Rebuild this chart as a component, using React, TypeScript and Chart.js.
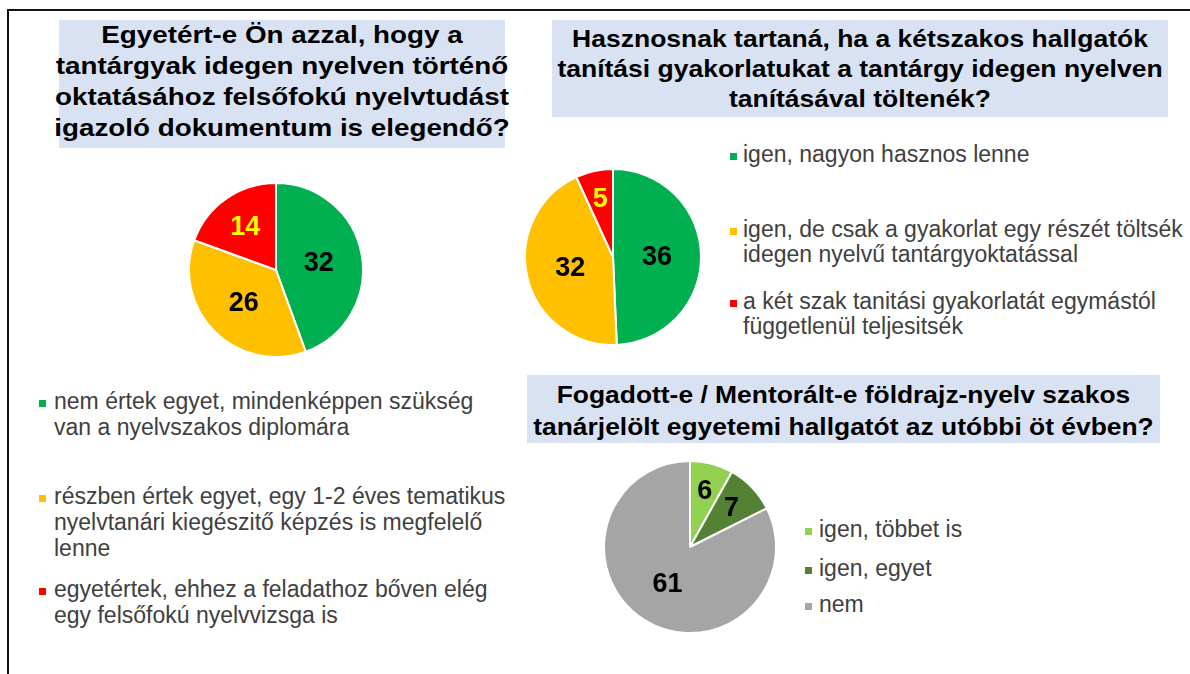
import React, { useEffect, useRef } from "react";
import { Chart, registerables } from "chart.js";
Chart.register(...registerables);

// ---------- data ----------
const title1 =
  "Egyetért-e Ön azzal, hogy a\ntantárgyak idegen nyelven történő\noktatásához felsőfokú nyelvtudást\nigazoló dokumentum is elegendő?";
const categories1 = [
  "nem értek egyet, mindenképpen szükség\nvan a nyelvszakos diplomára",
  "részben értek egyet, egy 1-2 éves tematikus\nnyelvtanári kiegészitő képzés is megfelelő\nlenne",
  "egyetértek, ehhez a feladathoz bőven elég\negy felsőfokú nyelvvizsga is",
];
const values1 = [32, 26, 14];
const colors1 = ["#00B050", "#FFC000", "#FF0000"];
const labelColors1 = ["#000000", "#000000", "#FFFF00"];

const title2 =
  "Hasznosnak tartaná, ha a kétszakos hallgatók\ntanítási gyakorlatukat a tantárgy idegen nyelven\ntanításával töltenék?";
const categories2 = [
  "igen, nagyon hasznos lenne",
  "igen, de csak a gyakorlat egy részét töltsék\nidegen nyelvű tantárgyoktatással",
  "a két szak tanitási gyakorlatát egymástól\nfüggetlenül teljesitsék",
];
const values2 = [36, 32, 5];
const colors2 = ["#00B050", "#FFC000", "#FF0000"];
const labelColors2 = ["#000000", "#000000", "#FFFF00"];

const title3 =
  "Fogadott-e / Mentorált-e földrajz-nyelv szakos\ntanárjelölt egyetemi hallgatót az utóbbi öt évben?";
const categories3 = ["igen, többet is", "igen, egyet", "nem"];
const values3 = [6, 7, 61];
const colors3 = ["#92D050", "#548235", "#A5A5A5"];
const labelColors3 = ["#000000", "#000000", "#000000"];

const FONT = "'Liberation Sans', Arial, Helvetica, sans-serif";

// ---------- value label plugin ----------
function makeLabelPlugin(labelColors: string[]) {
  return {
    id: "valueLabels",
    afterDatasetsDraw(chart: any) {
      const ctx = chart.ctx;
      const ds = chart.data.datasets[0];
      const meta = chart.getDatasetMeta(0);
      ctx.save();
      ctx.font = `bold 27px ${FONT}`;
      ctx.textAlign = "center";
      ctx.textBaseline = "middle";
      meta.data.forEach((arc: any, i: number) => {
        const p = arc.getProps(["startAngle", "endAngle", "outerRadius", "x", "y"], true);
        const span = ((p.endAngle - p.startAngle) * 180) / Math.PI;
        const f = Math.max(0.5, 0.72 - 0.0015 * span);
        const mid = (p.startAngle + p.endAngle) / 2;
        const r = p.outerRadius * f;
        ctx.fillStyle = labelColors[i];
        ctx.fillText(String(ds.data[i]), p.x + Math.cos(mid) * r, p.y + Math.sin(mid) * r + 1);
      });
      ctx.restore();
    },
  };
}

function Pie(props: {
  labels: string[];
  values: number[];
  colors: string[];
  labelColors: string[];
  left: number;
  top: number;
  size: number;
}) {
  const ref = useRef<HTMLCanvasElement | null>(null);
  useEffect(() => {
    if (!ref.current) return;
    const chart = new Chart(ref.current, {
      type: "pie",
      data: {
        labels: props.labels,
        datasets: [
          {
            data: props.values,
            backgroundColor: props.colors,
            borderColor: "#FFFFFF",
            borderWidth: 2,
          },
        ],
      },
      options: {
        responsive: false,
        animation: false,
        layout: { padding: 0 },
        plugins: { legend: { display: false }, tooltip: { enabled: false } },
      },
      plugins: [makeLabelPlugin(props.labelColors)],
    } as any);
    return () => chart.destroy();
  }, []);
  return (
    <canvas
      ref={ref}
      width={props.size}
      height={props.size}
      style={{ position: "absolute", left: props.left, top: props.top, width: props.size, height: props.size }}
    />
  );
}

function TitleBox(props: {
  text: string;
  left: number;
  top: number;
  width: number;
  height: number;
  lineHeight: number;
  textTop: number;
  scaleX: number;
}) {
  return (
    <div
      style={{
        position: "absolute",
        left: props.left,
        top: props.top,
        width: props.width,
        height: props.height,
        background: "#D9E2F3",
      }}
    >
      <div
        style={{
          position: "absolute",
          left: 0,
          top: props.textTop,
          width: "100%",
          textAlign: "center",
          whiteSpace: "pre",
          fontWeight: "bold",
          fontSize: 24,
          lineHeight: props.lineHeight + "px",
          color: "#000",
          transform: `scaleX(${props.scaleX})`,
          transformOrigin: "50% 0",
        }}
      >
        {props.text}
      </div>
    </div>
  );
}

function Legend(props: {
  labels: string[];
  colors: string[];
  tops: number[];
  markerX: number;
  textX: number;
  lineHeight: number;
  midOffset: number;
}) {
  return (
    <>
      {props.labels.map((t, i) => (
        <React.Fragment key={i}>
          <div
            style={{
              position: "absolute",
              left: props.markerX,
              top: props.tops[i] + props.midOffset - 3.5,
              width: 7,
              height: 7,
              background: props.colors[i],
            }}
          />
          <div
            style={{
              position: "absolute",
              left: props.textX,
              top: props.tops[i],
              whiteSpace: "pre",
              fontSize: 23,
              lineHeight: props.lineHeight + "px",
              color: "#404040",
            }}
          >
            {t}
          </div>
        </React.Fragment>
      ))}
    </>
  );
}

export default function App() {
  return (
    <div
      style={{
        position: "fixed",
        left: 0,
        top: 0,
        width: 1190,
        height: 674,
        overflow: "hidden",
        background: "#fff",
        fontFamily: FONT,
      }}
    >
      <div
        style={{
          position: "absolute",
          left: 7,
          top: 9,
          width: 1400,
          height: 900,
          borderLeft: "2px solid #111",
          borderTop: "2px solid #111",
        }}
      />
      <TitleBox text={title1} left={59} top={20} width={446} height={128} lineHeight={31} textTop={-1} scaleX={1.158} />
      <TitleBox text={title2} left={552} top={20} width={616} height={97} lineHeight={30} textTop={4} scaleX={1.104} />
      <TitleBox text={title3} left={527} top={375} width={633} height={68} lineHeight={32} textTop={4} scaleX={1.1} />

      <Pie labels={categories1} values={values1} colors={colors1} labelColors={labelColors1} left={188} top={182} size={176} />
      <Pie labels={categories2} values={values2} colors={colors2} labelColors={labelColors2} left={524} top={168} size={178} />
      <Pie labels={categories3} values={values3} colors={colors3} labelColors={labelColors3} left={603} top={460} size={174} />

      <Legend labels={categories1} colors={colors1} tops={[388, 483, 576]} markerX={39} textX={54} lineHeight={26} midOffset={15} />
      <Legend labels={categories2} colors={colors2} tops={[142, 217, 289]} markerX={730} textX={743} lineHeight={25} midOffset={14.5} />
      <Legend labels={categories3} colors={colors3} tops={[516, 555, 591]} markerX={805} textX={819} lineHeight={26} midOffset={15} />
    </div>
  );
}
